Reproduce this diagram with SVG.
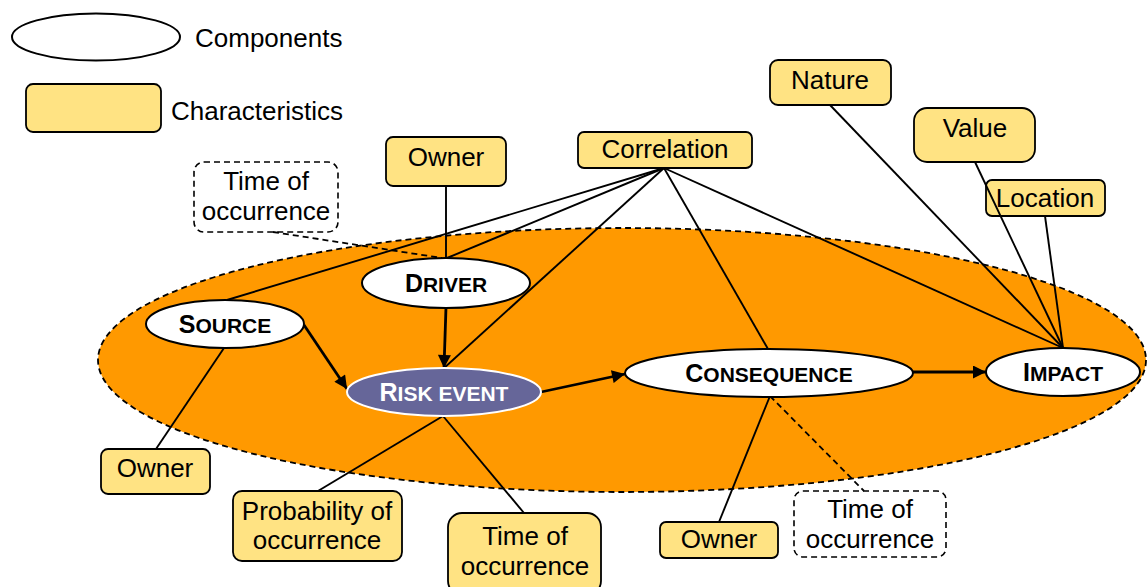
<svg xmlns="http://www.w3.org/2000/svg" width="1147" height="587" viewBox="0 0 1147 587">
<style>
text{font-family:"Liberation Sans",Arial,sans-serif;fill:#000}
.lbl{font-size:26px;text-anchor:middle}
.leg{font-size:26px}
.char{fill:#FFE383;stroke:#000;stroke-width:1.8}
.dash{fill:#fff;stroke:#000;stroke-width:1.6;stroke-dasharray:6 4}
.comp{fill:#fff;stroke:#000;stroke-width:2}
.cn{font-size:21px;font-weight:bold;text-anchor:middle}
.cn .big{font-size:25px}
.ln{stroke:#000;stroke-width:1.9;fill:none}
.dl{stroke:#000;stroke-width:1.8;fill:none;stroke-dasharray:6 4}
.ar{stroke:#000;stroke-width:2.8;fill:none;marker-end:url(#ah)}
</style>
<defs>
<marker id="ah" viewBox="0 0 10 10" refX="10" refY="5" markerWidth="15" markerHeight="13" markerUnits="userSpaceOnUse" orient="auto">
<path d="M0,0 L10,5 L0,10 z" fill="#000"/>
</marker>
</defs>
<rect width="1147" height="587" fill="#fff"/>
<g id="legend">
<ellipse cx="96" cy="37" rx="84" ry="23.5" class="comp"/>
<text x="195" y="47" class="leg">Components</text>
<rect x="26" y="84" width="135" height="48" rx="7" class="char"/>
<text x="171" y="120" class="leg">Characteristics</text>
</g>
<g id="scope">
<ellipse cx="622" cy="360" rx="524" ry="132" fill="#FF9900" stroke="#000" stroke-width="1.8" stroke-dasharray="6 4"/>
</g>
<g id="nature"><rect x="770" y="60" width="121" height="45" rx="8" class="char"/><text x="830" y="89" class="lbl">Nature</text></g>
<g id="value"><rect x="914" y="108" width="121" height="54" rx="13" class="char"/><text x="975" y="137" class="lbl">Value</text></g>
<g id="location"><rect x="986" y="180" width="119" height="36" rx="6" class="char"/><text x="1045" y="207" class="lbl">Location</text></g>
<g id="correlation"><rect x="578" y="132" width="174" height="36" rx="6" class="char"/><text x="665" y="158" class="lbl">Correlation</text></g>
<g id="owner-driver"><rect x="386" y="137" width="120" height="49" rx="7" class="char"/><text x="446" y="166" class="lbl">Owner</text></g>
<g id="time-driver"><rect x="194" y="162" width="144" height="70" rx="10" class="dash"/><text x="266" y="190" class="lbl">Time of</text><text x="266" y="220" class="lbl">occurrence</text></g>
<g id="owner-source"><rect x="101" y="449" width="109" height="45" rx="7" class="char"/><text x="155" y="477" class="lbl">Owner</text></g>
<g id="probability"><rect x="233" y="491" width="169" height="70" rx="9" class="char"/><text x="317" y="520" class="lbl">Probability of</text><text x="317" y="549" class="lbl">occurrence</text></g>
<g id="time-risk"><rect x="448" y="513" width="153" height="82" rx="14" class="char"/><text x="525" y="545" class="lbl">Time of</text><text x="525" y="575" class="lbl">occurrence</text></g>
<g id="owner-consequence"><rect x="660" y="522" width="118" height="36" rx="6" class="char"/><text x="719" y="548" class="lbl">Owner</text></g>
<g id="time-consequence"><rect x="794" y="491" width="152" height="66" rx="9" class="dash"/><text x="870" y="518" class="lbl">Time of</text><text x="870" y="548" class="lbl">occurrence</text></g>
<g id="connectors">
<line x1="664" y1="168" x2="227" y2="300" class="ln"/>
<line x1="664" y1="168" x2="447" y2="258" class="ln"/>
<line x1="664" y1="168" x2="443" y2="369" class="ln"/>
<line x1="664" y1="168" x2="768" y2="349" class="ln"/>
<line x1="664" y1="168" x2="1063" y2="348" class="ln"/>
<line x1="446" y1="186" x2="446" y2="258" class="ln"/>
<line x1="273" y1="232" x2="442" y2="258" class="dl"/>
<line x1="830" y1="105" x2="1063" y2="348" class="ln"/>
<line x1="975" y1="162" x2="1063" y2="348" class="ln"/>
<line x1="1045" y1="216" x2="1063" y2="348" class="ln"/>
<line x1="224" y1="348" x2="156" y2="449" class="ln"/>
<line x1="443" y1="416" x2="318" y2="491" class="ln"/>
<line x1="443" y1="416" x2="524" y2="513" class="ln"/>
<line x1="770" y1="396" x2="719" y2="522" class="ln"/>
<line x1="770" y1="396" x2="864" y2="491" class="dl"/>
<line x1="446" y1="307" x2="444" y2="368" class="ar"/>
<line x1="304" y1="325" x2="347" y2="389" class="ar"/>
<line x1="541" y1="392" x2="625" y2="374" class="ar"/>
<line x1="913" y1="372" x2="986" y2="372" class="ar"/>
</g>
<g id="source"><ellipse cx="225" cy="324" rx="79" ry="24" class="comp"/><text x="225" y="333" class="cn"><tspan class="big">S</tspan>OURCE</text></g>
<g id="driver"><ellipse cx="446" cy="283" rx="84" ry="25" class="comp"/><text x="446" y="292" class="cn"><tspan class="big">D</tspan>RIVER</text></g>
<g id="risk-event"><ellipse cx="444" cy="392" rx="97" ry="24" fill="#666699" stroke="#fff" stroke-width="2"/><text x="444" y="401" class="cn" style="fill:#fff"><tspan class="big">R</tspan>ISK EVENT</text></g>
<g id="consequence"><ellipse cx="769" cy="373" rx="144" ry="24" class="comp"/><text x="769" y="382" class="cn"><tspan class="big">C</tspan>ONSEQUENCE</text></g>
<g id="impact"><ellipse cx="1063" cy="372" rx="77" ry="24" class="comp"/><text x="1063" y="381" class="cn"><tspan class="big">I</tspan>MPACT</text></g>
</svg>
